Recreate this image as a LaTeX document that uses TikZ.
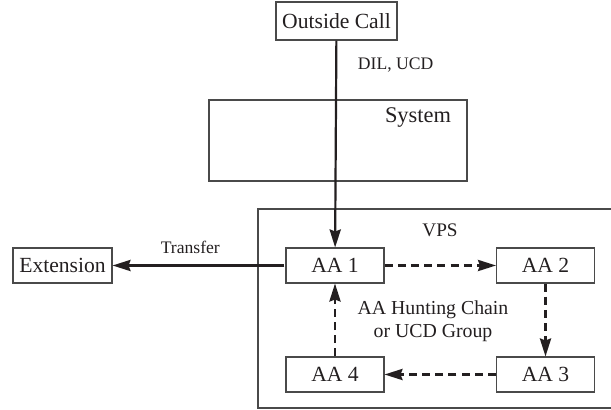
\documentclass[tikz,border=0pt]{standalone}
\usepackage{fontspec}
\setmainfont{Liberation Serif}
\usetikzlibrary{arrows.meta, positioning}
\definecolor{cline}{HTML}{4A4A4A}
\definecolor{ctext}{HTML}{231F20}
\tikzset{
  every picture/.style={line width=0.55pt, text=ctext},
  box/.style={draw=cline, rectangle, inner sep=0pt, minimum width=#1, minimum height=17.5pt, font=\fontsize{10.8}{12}\selectfont},
  box/.default=49pt,
  arrow/.style={-{Stealth[length=9pt, width=5.6pt, inset=1pt]}, draw=ctext, line width=1.1pt},
  hunt/.style={arrow, dash pattern=on 4pt off 2.6pt},
  note/.style={font=\fontsize{8.8}{10}\selectfont},
}
\begin{document}
\begin{tikzpicture}[x=0.5pt, y=-0.5pt]
  \clip (0,0) rectangle (611,410);
  \node[box=60.5pt, minimum height=19pt] (call) at (336.5,21) {Outside Call};
  \node[box=129pt, minimum height=40.5pt] (sys) at (338,140.5) {};
  \node[font=\fontsize{11.2}{13}\selectfont] (systxt) at (418,118) {System};
  \draw[cline] (625,209) -| (258,408) -- (625,408);
  \node[font=\fontsize{9.6}{11}\selectfont] (vps) at (440,230) {VPS};
  \node[box] (aa1) at (335,265.5) {AA 1};
  \node[box] (aa2) at (545.5,265.5) {AA 2};
  \node[box] (aa3) at (545.5,374.5) {AA 3};
  \node[box] (aa4) at (335,374.5) {AA 4};
  \node[box=49.5pt] (ext) at (62.5,265.5) {Extension};
  \node[font=\fontsize{9.9}{11.5}\selectfont, align=center] (chain) at (433,321.5) {AA Hunting Chain\\or UCD Group};
  \draw[arrow] (call) -- node[note, right=7pt, pos=0.12] {DIL, UCD} (aa1);
  \draw[arrow, shorten <=0.5pt] (aa1) -- node[note, above=2pt, pos=0.55] {Transfer} (ext);
  \draw[hunt] (aa1) -- (aa2);
  \draw[hunt] (aa2) -- (aa3);
  \draw[hunt] (aa3) -- (aa4);
  \draw[hunt] (aa4) -- (aa1);
\end{tikzpicture}
\end{document}
